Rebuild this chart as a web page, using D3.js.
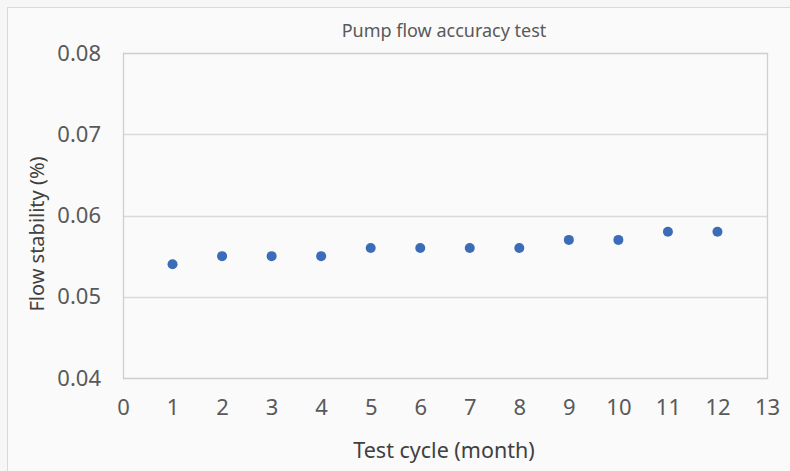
<!DOCTYPE html>
<html><head><meta charset="utf-8">
<script src="https://cdn.jsdelivr.net/npm/d3@7"></script>
<style>
html,body{margin:0;padding:0;background:#f6f6f6;}
svg{display:block;}
</style></head>
<body>
<svg id="chart" width="790" height="471"></svg>
<script>
const title = "Pump flow accuracy test";
const xTitle = "Test cycle (month)";
const yTitle = "Flow stability (%)";
const months = [1,2,3,4,5,6,7,8,9,10,11,12];
const stability = [0.054,0.055,0.055,0.055,0.056,0.056,0.056,0.056,0.057,0.057,0.058,0.058];
const xTicks = [0,1,2,3,4,5,6,7,8,9,10,11,12,13];
const yTicks = [0.04,0.05,0.06,0.07,0.08];

const svg = d3.select("#chart");
const W = 790, H = 471;
const m = {left:123, right:23, top:53, bottom:93};
const pw = W - m.left - m.right, ph = H - m.top - m.bottom;
const font = "'Noto Sans', 'Open Sans', sans-serif";

svg.append("rect").attr("x",7.5).attr("y",7.5).attr("width",W).attr("height",H)
  .attr("fill","#fafafa").attr("stroke","#d9d9d9").attr("stroke-width",1);

const x = d3.scaleLinear().domain([0,13]).range([m.left, m.left+pw]);
const y = d3.scaleLinear().domain([0.04,0.08]).range([m.top+ph, m.top]);

// gridlines
const grid = svg.append("g");
grid.selectAll("line").data(yTicks).join("line")
  .attr("x1",m.left).attr("x2",m.left+pw)
  .attr("y1",d=>Math.round(y(d))+0.5).attr("y2",d=>Math.round(y(d))+0.5)
  .attr("stroke","#d9d9d9").attr("stroke-width",1.3);
// plot border
svg.append("rect").attr("x",m.left+0.5).attr("y",Math.round(m.top)+0.5)
  .attr("width",pw).attr("height",ph).attr("fill","none")
  .attr("stroke","#d0d0d0").attr("stroke-width",1.3);

// axes
const yAxis = d3.axisLeft(y).tickValues(yTicks).tickFormat(d3.format(".2f")).tickSize(0).tickPadding(22);
const gy = svg.append("g").attr("transform",`translate(${m.left},0)`).call(yAxis);
gy.select(".domain").remove();
gy.selectAll("text").attr("font-family",font).attr("font-size",22).attr("fill","#595959");

const xAxis = d3.axisBottom(x).tickValues(xTicks).tickFormat(d3.format("d")).tickSize(0).tickPadding(21);
const gx = svg.append("g").attr("transform",`translate(0,${m.top+ph})`).call(xAxis);
gx.select(".domain").remove();
gx.selectAll("text").attr("font-family",font).attr("font-size",22).attr("fill","#595959");

// points
svg.append("g").selectAll("circle").data(months.map((mo,i)=>({mo, v:stability[i]}))).join("circle")
  .attr("cx",d=>x(d.mo)).attr("cy",d=>y(d.v)).attr("r",5)
  .attr("fill","#3b6cb7");

// titles
svg.append("text").attr("x",444).attr("y",37).attr("text-anchor","middle")
  .attr("font-family",font).attr("font-size",18).attr("fill","#595959").text(title);
svg.append("text").attr("x",444).attr("y",458).attr("text-anchor","middle")
  .attr("font-family",font).attr("font-size",21.5).attr("fill","#404040").text(xTitle);
svg.append("text").attr("transform","translate(44,234) rotate(-90)").attr("text-anchor","middle")
  .attr("font-family",font).attr("font-size",20).attr("fill","#404040").text(yTitle);
</script>
</body></html>
